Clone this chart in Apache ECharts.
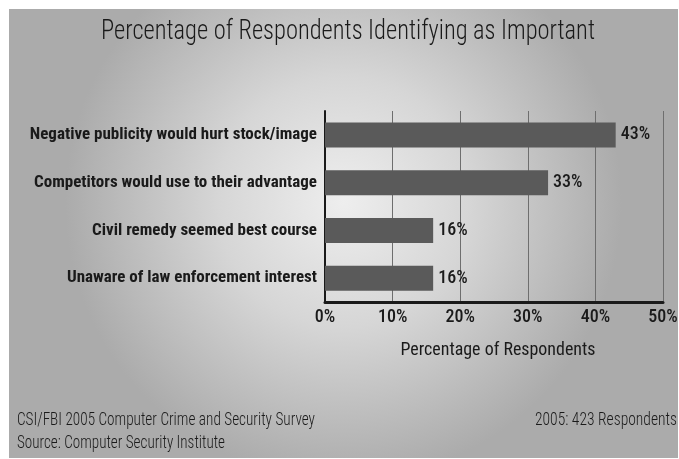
<!DOCTYPE html>
<html>
<head>
<meta charset="utf-8">
<script src="https://cdn.jsdelivr.net/npm/echarts@6/dist/echarts.min.js"></script>
<style>
  html, body { margin: 0; padding: 0; background: #ffffff; }
  #chart { width: 679px; height: 459px; }
</style>
</head>
<body>
<div id="chart"></div>
<script>
// Reasons for not reporting intrusions, share of respondents
const categories = [
  'Negative publicity would hurt stock/image',
  'Competitors would use to their advantage',
  'Civil remedy seemed best course',
  'Unaware of law enforcement interest'
];
const percentages = [43, 33, 16, 16];
const xTicks = [0, 10, 20, 30, 40, 50];

const titleText = 'Percentage of Respondents Identifying as Important';
const axisTitle = 'Percentage of Respondents';
const footLeft1 = 'CSI/FBI 2005 Computer Crime and Security Survey';
const footLeft2 = 'Source: Computer Security Institute';
const footRight = '2005: 423 Respondents';

const NARROW = '"Roboto Condensed", "DejaVu Sans Condensed", sans-serif';
const INK = '#1a1a1a';

// Horizontal squeeze so a text run fits a given width (the typeface is narrower than any installed one)
const measureCtx = document.createElement('canvas').getContext('2d');
function squeeze(text, font, width) {
  measureCtx.font = font;
  return Math.min(1, width / measureCtx.measureText(text).width);
}

function narrowText(text, font, x, y, align, width) {
  const s = squeeze(text, font, width);
  return {
    type: 'text',
    x: x,
    y: y,
    scaleX: s,
    silent: true,
    style: {
      text: text,
      font: font,
      fill: INK,
      textAlign: align,
      textVerticalAlign: 'middle'
    }
  };
}

const titleFont = '300 28px ' + NARROW;
const axisTitleFont = '19px ' + NARROW;
const footFont = '300 19px ' + NARROW;

const chart = echarts.init(document.getElementById('chart'), null, { renderer: 'canvas' });

chart.setOption({
  animation: false,
  backgroundColor: '#ffffff',
  graphic: [
    {
      type: 'rect',
      z: -10,
      silent: true,
      shape: { x: 9, y: 9, width: 669, height: 449 },
      style: {
        fill: new echarts.graphic.RadialGradient(0.5, 0.43, 0.62, [
          { offset: 0, color: '#eeeeee' },
          { offset: 0.45, color: '#d6d6d6' },
          { offset: 1, color: '#ababab' }
        ])
      }
    },
    narrowText(titleText, titleFont, 348, 32, 'center', 494),
    narrowText(axisTitle, axisTitleFont, 498, 350, 'center', 195),
    narrowText(footLeft1, footFont, 17, 420, 'left', 298),
    narrowText(footLeft2, footFont, 17, 443, 'left', 208),
    narrowText(footRight, footFont, 677, 420, 'right', 142)
  ],
  grid: { left: 325, right: 16, top: 111, bottom: 157, containLabel: false, outerBoundsMode: 'none' },
  xAxis: {
    type: 'value',
    min: xTicks[0],
    max: xTicks[xTicks.length - 1],
    interval: xTicks[1] - xTicks[0],
    axisLine: { show: true, onZero: false, lineStyle: { color: INK, width: 3 } },
    axisTick: { show: false },
    splitLine: { show: true, lineStyle: { color: '#6e6e6e', width: 1 } },
    axisLabel: {
      formatter: '{value}%',
      color: INK,
      fontFamily: NARROW,
      fontWeight: 500,
      fontSize: 18,
      margin: 6
    }
  },
  yAxis: {
    type: 'category',
    inverse: true,
    data: categories,
    axisLine: { show: true, lineStyle: { color: INK, width: 2 } },
    axisTick: { show: false },
    axisLabel: {
      color: INK,
      fontFamily: NARROW,
      fontWeight: 'bold',
      fontSize: 17,
      margin: 8
    }
  },
  series: [
    {
      type: 'bar',
      data: percentages,
      barWidth: 25,
      itemStyle: { color: '#5a5a5a' },
      label: {
        show: true,
        position: 'right',
        distance: 5,
        formatter: '{c}%',
        color: INK,
        fontFamily: NARROW,
        fontWeight: 500,
        fontSize: 18
      }
    }
  ]
});
</script>
</body>
</html>
